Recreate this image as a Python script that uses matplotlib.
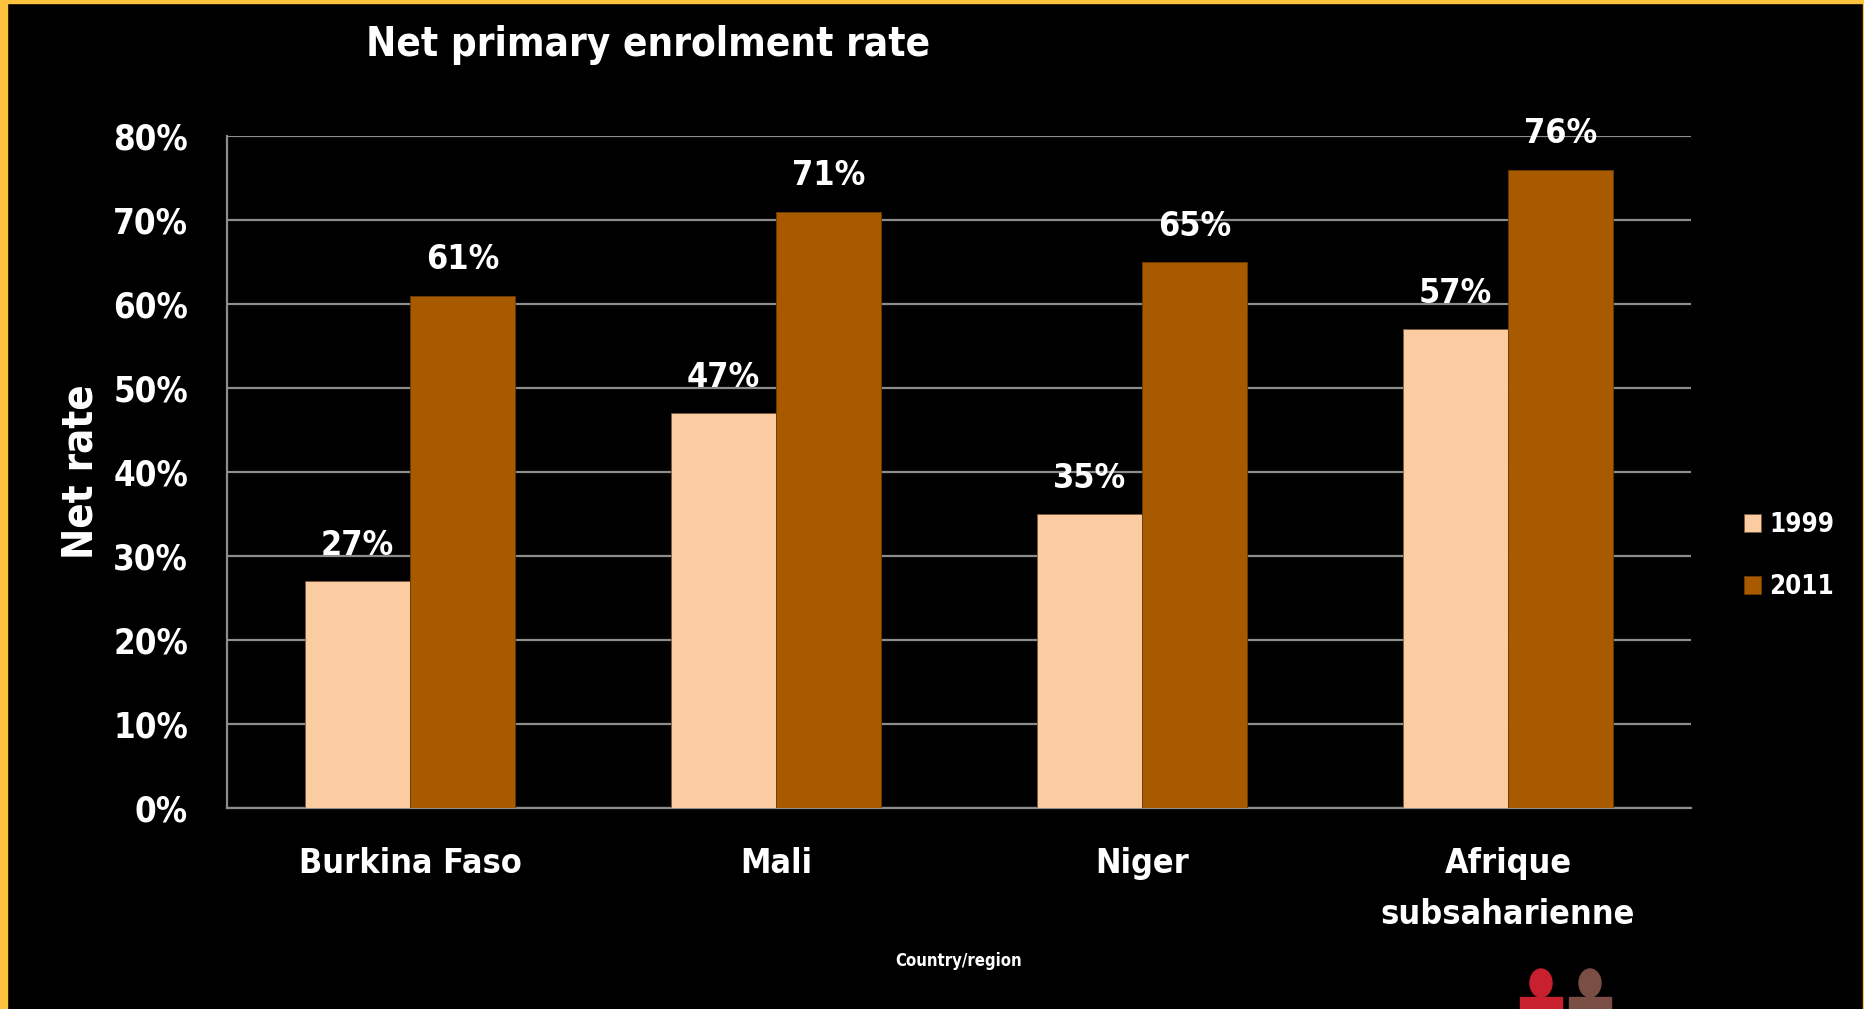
import numpy as np
import matplotlib
matplotlib.use("Agg")
import matplotlib.pyplot as plt
from matplotlib.patches import Rectangle, Ellipse

categories = ["Burkina Faso", "Mali", "Niger", "Afrique\nsubsaharienne"]
years = ["1999", "2011"]
rate_1999 = [27, 47, 35, 57]
rate_2011 = [61, 71, 65, 76]
yticks = [0, 10, 20, 30, 40, 50, 60, 70, 80]

C1999 = "#FBCBA1"
C2011 = "#A85A00"
GRID = "#8C8C8C"
BORDER = "#FFC23F"

plt.rcParams["font.family"] = ["DejaVu Sans"]
plt.rcParams["font.stretch"] = "condensed"
plt.rcParams["font.weight"] = "bold"

W, H = 1865, 1009
fig = plt.figure(figsize=(W / 100, H / 100), dpi=100, facecolor="black")


def px(x0, y0, x1, y1):
    return [x0 / W, 1 - y1 / H, (x1 - x0) / W, (y1 - y0) / H]


ax = fig.add_axes(px(227, 136, 1691, 808), facecolor="black")

x = np.arange(len(categories)) + 0.5
bw = 0.287
b1 = ax.bar(x - bw / 2, rate_1999, bw, color=C1999, edgecolor="#7a5a40",
            lw=0.6, zorder=3, label=years[0])
b2 = ax.bar(x + bw / 2, rate_2011, bw, color=C2011, edgecolor="#6e3c00",
            lw=0.6, zorder=3, label=years[1])

for bars, vals in [(b1, rate_1999), (b2, rate_2011)]:
    for b, v in zip(bars, vals):
        ax.annotate(f"{v}%", (b.get_x() + b.get_width() / 2, v),
                    xytext=(0, 19), textcoords="offset points",
                    ha="center", va="baseline", color="white", fontsize=24.5,
                    fontweight="bold")

ax.set_xlim(0, len(categories))
ax.set_ylim(0, 80)
ax.set_yticks(yticks)
ax.set_yticklabels([f"{t}%" for t in yticks])
ax.yaxis.grid(True, color=GRID, lw=1.6, zorder=1)
ax.set_axisbelow(True)
ax.set_xticks(x)
ax.set_xticklabels(categories, linespacing=1.7)
ax.tick_params(axis="y", length=0, pad=28, labelsize=25, labelcolor="white")
ax.tick_params(axis="x", length=0, pad=28, labelsize=24.5, labelcolor="white")
for s in ["top", "right"]:
    ax.spines[s].set_visible(False)
ax.spines["left"].set_color(GRID)
ax.spines["left"].set_linewidth(1.6)
ax.spines["bottom"].set_color(GRID)
ax.spines["bottom"].set_linewidth(1.6)

ax.set_ylabel("Net rate", color="white", fontsize=30, fontweight="bold")
ax.yaxis.set_label_coords(-0.086, 0.50)

fig.text(648 / W, 1 - 45 / H, "Net primary enrolment rate", color="white",
         fontsize=29, fontweight="bold", ha="center", va="center")
fig.text(959 / W, 1 - 961 / H, "Country/region", color="white",
         fontsize=12, fontweight="bold", ha="center", va="center")

ax.legend(loc="center left", bbox_to_anchor=(1744 / W, 1 - 556 / H),
          bbox_transform=fig.transFigure, frameon=False, borderpad=0,
          borderaxespad=0, fontsize=18.5, handlelength=0.68, handleheight=0.68,
          handletextpad=0.3, labelspacing=1.4, labelcolor="white")

# slide frame
fig.patches.append(Rectangle((0, 0), 7 / W, 1, transform=fig.transFigure,
                             color=BORDER, zorder=10))
fig.patches.append(Rectangle((0, 1 - 3 / H), 1, 3 / H, transform=fig.transFigure,
                             color=BORDER, zorder=10))
fig.patches.append(Rectangle((1 - 2 / W, 0), 2 / W, 1, transform=fig.transFigure,
                             color=BORDER, zorder=10))

# logo figures, bottom right (cut off by the frame)
for cx, col in [(1541, "#C8202F"), (1590, "#7A4E44")]:
    fig.patches.append(Ellipse((cx / W, 1 - 983 / H), 22 / W, 28 / H,
                               transform=fig.transFigure, color=col))
    fig.patches.append(Rectangle(((cx - 21) / W, 0), 42 / W, 12 / H,
                                 transform=fig.transFigure, color=col))

fig.savefig("out.png", dpi=100, facecolor="black")
